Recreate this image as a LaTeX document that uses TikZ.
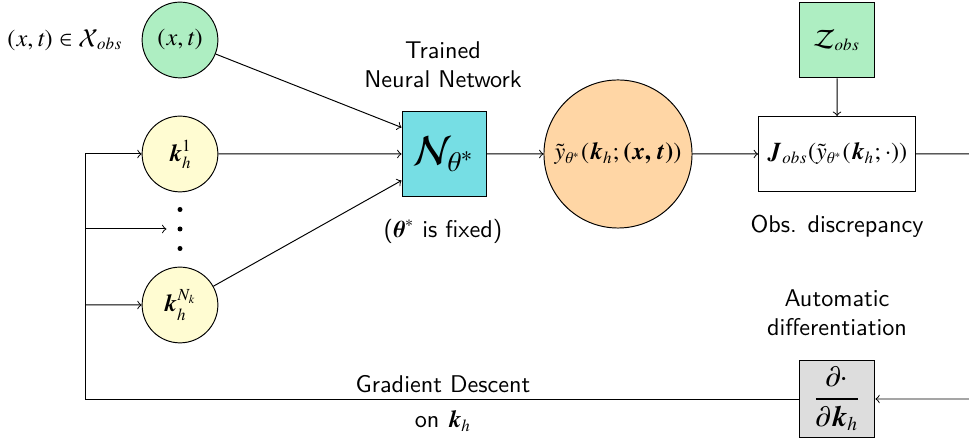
\documentclass[tikz,border=0pt]{standalone}
\usepackage{amsmath}
\usepackage{txfonts}
\renewcommand{\rmdefault}{lmr}
\renewcommand{\sfdefault}{lmss}
\renewcommand{\ttdefault}{lmtt}
\usepackage{tikz}
\usepackage{xcolor}
\usetikzlibrary{positioning}

\definecolor{inpgreen}{RGB}{174,238,194}
\definecolor{kyellow}{RGB}{255,252,210}
\definecolor{nncyan}{RGB}{118,222,228}
\definecolor{outorange}{RGB}{255,214,165}
\definecolor{adgray}{RGB}{221,221,221}

\begin{document}
\begin{tikzpicture}[scale=0.1452, >=to,
    circ/.style={circle, draw, minimum size=1.1cm, inner sep=0pt},
    sqbox/.style={rectangle, draw, minimum size=1.1cm, inner sep=0pt},
    lbl/.style={font=\sffamily, align=center}]
	\useasboundingbox (0,0) rectangle (96.9,44);
	% inputs
	\node[circ, fill=inpgreen] (xt) at (18,40) {$(x,t)$};
	\node (xtlabel) at (6.5,40) {$(x,t)\in\mathcal{X}_{obs}$};
	\node[circ, fill=kyellow] (k1) at (18,28.6) {$\boldsymbol{k}_h^1$};
	\node[inner sep=0pt, minimum width=0.38cm, minimum height=0.7cm] (dots) at (18,21.1) {};
	\fill (18,23.05) circle[radius=0.25] (18,21.1) circle[radius=0.25] (18,19.15) circle[radius=0.25];
	\node[circ, fill=kyellow] (kN) at (18,13.5) {$\boldsymbol{k}_h^{N_k}$};
	% network and output
	\node[sqbox, minimum size=1.22cm, fill=nncyan] (NN) at (44.4,28.6) {\LARGE$\mathcal{N}_{\theta^*}$};
	\node[lbl] (trained) at (44.3,37.5) {Trained\\Neural Network};
	\node[lbl] (fixed) at (44.3,20.9) {($\boldsymbol{\theta}^*$ is fixed)};
	\node[circ, minimum size=2.15cm, fill=outorange] (yout) at (61.8,28.6) {$\tilde{y}_{\theta^*}(\boldsymbol{k}_h;\boldsymbol{(x,t)})$};
	% discrepancy
	\node[rectangle, draw, minimum width=2.28cm, minimum height=1.09cm] (J) at (83.7,28.6) {$\boldsymbol{J}_{obs}(\tilde{y}_{\theta^*}(\boldsymbol{k}_h;\cdot))$};
	\node[sqbox, fill=inpgreen] (Z) at (83.7,40) {$\mathcal{Z}_{obs}$};
	\node[lbl] (disc) at (83.7,21.4) {Obs. discrepancy};
	\node[lbl] (auto) at (83.7,12.7) {Automatic\\differentiation};
	\node[sqbox, minimum height=1.12cm, fill=adgray] (dk) at (83.7,4.1) {\large$\displaystyle\frac{\partial\cdot}{\partial\boldsymbol{k}_h}$};
	\node[lbl] (gd) at (44.3,5.6) {Gradient Descent};
	\node[lbl] (onk) at (44.3,1.9) {on $\boldsymbol{k}_h$};
	\coordinate (back) at (8.5,4.1);
	\coordinate (outJ) at (98,28.6);
	\coordinate (outD) at (98,4.1);
	% connectors
	\draw[->] (xt) -- (NN.148);
	\draw[->] (k1) -- (NN);
	\draw[->] (kN) -- (NN.212);
	\draw[->] (NN) -- (yout);
	\draw[->] (yout) -- (J);
	\draw[->] (Z) -- (J);
	\draw[->] (J) -- (outJ) -- (outD) -- (dk);
	\draw[->] (dk) -- (back) |- (k1);
	\draw[->] (back |- dots) -- (dots.west);
	\draw[->] (back |- kN) -- (kN);
\end{tikzpicture}
\end{document}
